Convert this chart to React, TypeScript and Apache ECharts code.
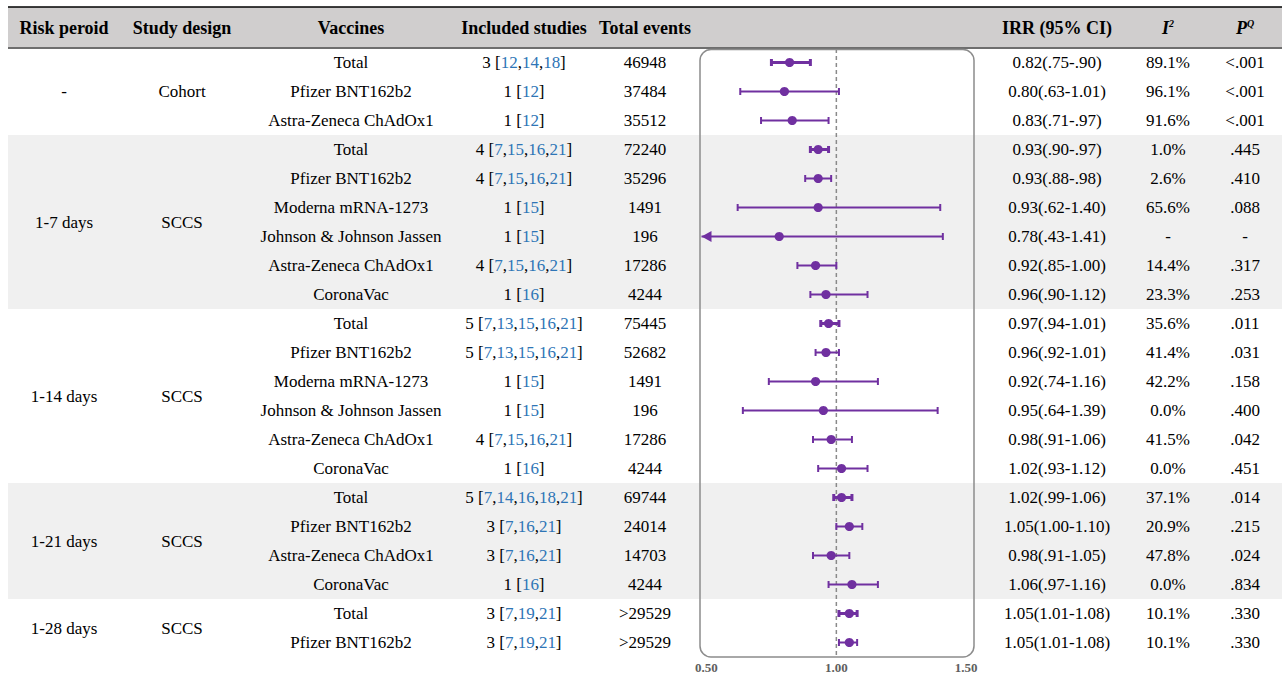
import { useEffect, useRef } from "react";
import * as echarts from "echarts";

// ---------- data ----------
const vaccines = [
  "Total", "Pfizer BNT162b2", "Astra-Zeneca ChAdOx1",
  "Total", "Pfizer BNT162b2", "Moderna mRNA-1273", "Johnson & Johnson Jassen", "Astra-Zeneca ChAdOx1", "CoronaVac",
  "Total", "Pfizer BNT162b2", "Moderna mRNA-1273", "Johnson & Johnson Jassen", "Astra-Zeneca ChAdOx1", "CoronaVac",
  "Total", "Pfizer BNT162b2", "Astra-Zeneca ChAdOx1", "CoronaVac",
  "Total", "Pfizer BNT162b2",
];
const studyCounts = [3, 1, 1, 4, 4, 1, 1, 4, 1, 5, 5, 1, 1, 4, 1, 5, 3, 3, 1, 3, 3];
const studyRefs = [
  [12, 14, 18], [12], [12],
  [7, 15, 16, 21], [7, 15, 16, 21], [15], [15], [7, 15, 16, 21], [16],
  [7, 13, 15, 16, 21], [7, 13, 15, 16, 21], [15], [15], [7, 15, 16, 21], [16],
  [7, 14, 16, 18, 21], [7, 16, 21], [7, 16, 21], [16],
  [7, 19, 21], [7, 19, 21],
];
const totalEvents = [
  "46948", "37484", "35512",
  "72240", "35296", "1491", "196", "17286", "4244",
  "75445", "52682", "1491", "196", "17286", "4244",
  "69744", "24014", "14703", "4244",
  ">29529", ">29529",
];
const irr = [0.82, 0.80, 0.83, 0.93, 0.93, 0.93, 0.78, 0.92, 0.96, 0.97, 0.96, 0.92, 0.95, 0.98, 1.02, 1.02, 1.05, 0.98, 1.06, 1.05, 1.05];
const ciLow = [0.75, 0.63, 0.71, 0.90, 0.88, 0.62, 0.43, 0.85, 0.90, 0.94, 0.92, 0.74, 0.64, 0.91, 0.93, 0.99, 1.00, 0.91, 0.97, 1.01, 1.01];
const ciHigh = [0.90, 1.01, 0.97, 0.97, 0.98, 1.40, 1.41, 1.00, 1.12, 1.01, 1.01, 1.16, 1.39, 1.06, 1.12, 1.06, 1.10, 1.05, 1.16, 1.08, 1.08];
const i2 = [
  "89.1%", "96.1%", "91.6%",
  "1.0%", "2.6%", "65.6%", "-", "14.4%", "23.3%",
  "35.6%", "41.4%", "42.2%", "0.0%", "41.5%", "0.0%",
  "37.1%", "20.9%", "47.8%", "0.0%",
  "10.1%", "10.1%",
];
const pq = [
  "<.001", "<.001", "<.001",
  ".445", ".410", ".088", "-", ".317", ".253",
  ".011", ".031", ".158", ".400", ".042", ".451",
  ".014", ".215", ".024", ".834",
  ".330", ".330",
];
const periods = ["-", "1-7 days", "1-14 days", "1-21 days", "1-28 days"];
const designs = ["Cohort", "SCCS", "SCCS", "SCCS", "SCCS"];
const groupSizes = [3, 6, 6, 4, 2];
const groupShaded = [false, true, false, true, false];
const xTicks = [0.5, 1.0, 1.5];
const headers = ["Risk peroid", "Study design", "Vaccines", "Included studies", "Total events", "IRR (95% CI)"];

// ---------- layout ----------
const ROW_TOP = 48;
const ROW_H = 29;
const rowY = (i: number) => ROW_TOP + ROW_H * (i + 0.5);
const COL = { period: 64, design: 182, vaccine: 351, studies: 524, events: 645, irr: 1057, i2: 1168, pq: 1245 };
const FONT = '"Liberation Serif", "Times New Roman", serif';
const PURPLE = "#7030a0";
const BLUE = "#2e75b6";

const fmtCi = (v: number) => (v < 1 ? v.toFixed(2).replace(/^0/, "") : v.toFixed(2));

function supText(x: number, main: string, sup: string) {
  return {
    type: "text", z: 5, x, y: 27.5,
    style: {
      text: `{m|${main}}{s|${sup}}`, align: "center", verticalAlign: "middle", textAlign: "center", textVerticalAlign: "middle",
      fill: "#000", font: `italic bold 18px ${FONT}`,
      rich: {
        m: { fontFamily: FONT, fontSize: 18, fontWeight: "bold", fontStyle: "italic", fill: "#000" },
        s: { fontFamily: FONT, fontSize: 10, fontWeight: "bold", fontStyle: "italic", fill: "#000", verticalAlign: "top" },
      },
    },
  };
}

function buildGraphics() {
  const els: any[] = [];
  // header band
  els.push({ type: "rect", z: 0, shape: { x: 8, y: 7, width: 1274, height: 41 }, style: { fill: "#d0cece" } });
  els.push({ type: "line", z: 1, shape: { x1: 8, y1: 7, x2: 1282, y2: 7 }, style: { stroke: "#000", lineWidth: 1.5 } });
  els.push({ type: "line", z: 1, shape: { x1: 8, y1: 48, x2: 1282, y2: 48 }, style: { stroke: "#6e6e6e", lineWidth: 2 } });

  // shading and group labels
  let start = 0;
  groupSizes.forEach((n, g) => {
    if (groupShaded[g]) {
      els.push({
        type: "rect", z: 0,
        shape: { x: 8, y: ROW_TOP + ROW_H * start, width: 1274, height: ROW_H * n },
        style: { fill: "#f0f0f0" },
      });
    }
    const cy = ROW_TOP + ROW_H * (start + n / 2);
    els.push(txt(COL.period, cy, periods[g]));
    els.push(txt(COL.design, cy, designs[g]));
    start += n;
  });

  // headers
  const hx = [COL.period, COL.design, COL.vaccine, COL.studies, COL.events, COL.irr];
  headers.forEach((h, k) => els.push(txt(hx[k], 27.5, h, true)));
  els.push(supText(COL.i2, "I", "2"));
  els.push(supText(COL.pq, "P", "Q"));

  // row texts
  vaccines.forEach((v, i) => {
    const y = rowY(i);
    els.push(txt(COL.vaccine, y, v));
    const studiesText = `${studyCounts[i]} [` + studyRefs[i].map((r) => `{b|${r}}`).join(",") + "]";
    els.push({
      type: "text", z: 5, x: COL.studies, y,
      style: {
        text: studiesText, align: "center", verticalAlign: "middle", textAlign: "center", textVerticalAlign: "middle",
        fill: "#000", font: `17px ${FONT}`,
        rich: { b: { fontFamily: FONT, fontSize: 17, fill: BLUE } },
      },
    });
    els.push(txt(COL.events, y, totalEvents[i]));
    els.push(txt(COL.irr, y, `${irr[i].toFixed(2)}(${fmtCi(ciLow[i])}-${fmtCi(ciHigh[i])})`));
    els.push(txt(COL.i2, y, i2[i]));
    els.push(txt(COL.pq, y, pq[i]));
  });

  // rounded plot frame
  els.push({
    type: "rect", z: 3,
    shape: { x: 700, y: 49.5, width: 274, height: 607.5, r: 11 },
    style: { fill: "none", stroke: "#8c8c8c", lineWidth: 1.5 },
  });
  return els;
}

function txt(x: number, y: number, text: string, bold = false) {
  return {
    type: "text", z: 5, x, y,
    style: {
      text, fill: "#000",
      font: bold ? `bold 18px ${FONT}` : `17px ${FONT}`,
      align: "center", verticalAlign: "middle", textAlign: "center", textVerticalAlign: "middle",
    },
  };
}

export default function App() {
  const ref = useRef<HTMLDivElement>(null);
  useEffect(() => {
    if (!ref.current) return;
    const chart = echarts.init(ref.current, undefined, { renderer: "svg" });
    const barData = vaccines.map((v, i) => [i, irr[i], ciLow[i], ciHigh[i], v === "Total" ? 1 : 0]);
    chart.setOption({
      animation: false,
      grid: { left: 700, top: ROW_TOP, width: 274, height: ROW_H * vaccines.length },
      xAxis: {
        type: "value", min: 0.475, max: 1.53,
        axisLine: { show: false }, axisTick: { show: false }, splitLine: { show: false },
        axisLabel: {
          customValues: xTicks, formatter: (v: number) => v.toFixed(2),
          color: "#5e5e5e", fontWeight: "bold", fontSize: 13, fontFamily: FONT, margin: 4,
        },
      },
      yAxis: { type: "category", inverse: true, show: false, data: vaccines.map((_, i) => String(i)) },
      graphic: { elements: buildGraphics() },
      series: [
        {
          type: "custom", z: 2,
          data: [[1, 0]],
          encode: { x: 0, y: 1 },
          renderItem: (params: any, api: any) => {
            const cs = params.coordSys;
            const x = api.coord([api.value(0), 0])[0];
            return {
              type: "line",
              shape: { x1: x, y1: cs.y + 1, x2: x, y2: cs.y + cs.height },
              style: { stroke: "#8a8a8a", lineWidth: 1.5, lineDash: [4, 3] },
            };
          },
        },
        {
          type: "custom", z: 4, clip: false,
          data: barData,
          encode: { x: [1, 2, 3], y: 0 },
          renderItem: (params: any, api: any) => {
            const cs = params.coordSys;
            const i = api.value(0);
            const [xE, y] = api.coord([api.value(1), i]);
            let xL = api.coord([api.value(2), i])[0];
            const xH = api.coord([api.value(3), i])[0];
            const total = api.value(4) === 1;
            const lw = total ? 3 : 2;
            const clipped = xL < cs.x;
            if (clipped) xL = cs.x + 1.5;
            const cap = 3.5;
            const children: any[] = [
              { type: "line", shape: { x1: xL, y1: y, x2: xH, y2: y }, style: { stroke: PURPLE, lineWidth: lw } },
              { type: "line", shape: { x1: xH, y1: y - cap, x2: xH, y2: y + cap }, style: { stroke: PURPLE, lineWidth: lw } },
            ];
            if (clipped) {
              children.push({
                type: "polygon",
                shape: { points: [[xL, y], [xL + 10, y - 5.5], [xL + 10, y + 5.5]] },
                style: { fill: PURPLE },
              });
            } else {
              children.push({ type: "line", shape: { x1: xL, y1: y - cap, x2: xL, y2: y + cap }, style: { stroke: PURPLE, lineWidth: lw } });
            }
            children.push({ type: "circle", shape: { cx: xE, cy: y, r: 4.6 }, style: { fill: PURPLE } });
            return { type: "group", children };
          },
        },
      ],
    });
    return () => chart.dispose();
  }, []);
  return <div ref={ref} style={{ position: "absolute", left: 0, top: 0, width: 1282, height: 676 }} />;
}
